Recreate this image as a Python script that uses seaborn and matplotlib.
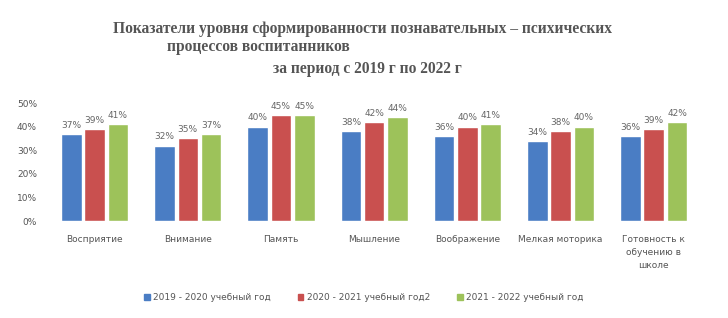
import matplotlib
import pandas as pd
import seaborn as sns
import matplotlib.pyplot as plt
matplotlib.use('Agg')

categories = ['Восприятие', 'Внимание', 'Память', 'Мышление', 'Воображение',
              'Мелкая моторика', 'Готовность к\nобучению в\nшколе']
series = ['2019 - 2020 учебный год', '2020 - 2021 учебный год2', '2021 - 2022 учебный год']
values_2019 = [37, 32, 40, 38, 36, 34, 36]
values_2020 = [39, 35, 45, 42, 40, 38, 39]
values_2021 = [41, 37, 45, 44, 41, 40, 42]
colors = ['#4A7DC4', '#C9504F', '#9DC25A']

rows = []
for name, vals in zip(series, [values_2019, values_2020, values_2021]):
    for cat, v in zip(categories, vals):
        rows.append({'cat': cat, 'series': name, 'value': v})
df = pd.DataFrame(rows)

sns.set_style('white')
plt.rcParams['font.family'] = ['DejaVu Sans']

fig = plt.figure(figsize=(7.28, 3.18), dpi=100)
ax = fig.add_axes([0.066, 0.305, 0.896, 0.371])

sns.barplot(data=df, x='cat', y='value', hue='series', palette=colors,
            saturation=1, width=0.75, gap=0.12, ax=ax, legend=False)

for cont in ax.containers:
    ax.bar_label(cont, labels=[f'{int(v)}%' for v in cont.datavalues],
                 padding=3, fontsize=6.5, color='#666666')

ax.set_ylim(0, 50)
ax.set_yticks(range(0, 51, 10))
ax.set_yticklabels([f'{t}%' for t in range(0, 51, 10)], fontsize=6.5, color='#555555')
ax.set_xticklabels(categories, fontsize=6.5, color='#555555', linespacing=1.6, va='top')
ax.tick_params(axis='both', length=0)
ax.tick_params(axis='y', pad=8)
ax.tick_params(axis='x', pad=10)
ax.set_xlabel('')
ax.set_ylabel('')
sns.despine(ax=ax, left=True, bottom=True)

# title, set in serif like the original
tfont = dict(family='Liberation Serif', fontsize=11.2, fontweight='bold', color='#555555')
fig.text(0.4985, 0.895, 'Показатели уровня сформированности познавательных – психических', ha='center', **tfont)
fig.text(0.23, 0.84, 'процессов воспитанников', ha='left', **tfont)
fig.text(0.505, 0.77, 'за период с 2019 г по 2022 г', ha='center', **tfont)

handles = [plt.Rectangle((0, 0), 1, 1, color=c) for c in colors]
fig.legend(handles, series, loc='center', bbox_to_anchor=(0.5, 0.063), ncol=3,
           frameon=False, fontsize=6.5, handlelength=0.6, handleheight=0.6,
           columnspacing=3, handletextpad=0.4, labelcolor='#555555')

fig.savefig('out.png', dpi=100)
